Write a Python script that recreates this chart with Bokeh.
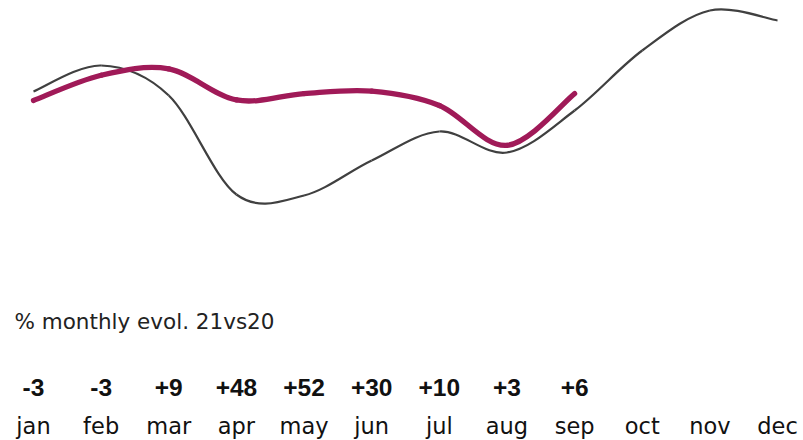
from bokeh.plotting import figure
from bokeh.models import Range1d, Label, ColumnDataSource
from bokeh.core.properties import value
from bokeh.embed import file_html
from bokeh.resources import INLINE

# Month axis
months = ["jan", "feb", "mar", "apr", "may", "jun",
          "jul", "aug", "sep", "oct", "nov", "dec"]

# 2020 monthly volume (index units)
vol_2020 = [300, 326, 296, 197, 196, 231, 260, 239, 281, 341, 381, 371]

# % evolution 2021 vs 2020 (months available so far)
pct_21vs20 = [-3, -3, 9, 48, 52, 30, 10, 3, 6]

# 2021 volume derived from 2020 and the monthly evolution
vol_2021 = [v * (1 + p / 100.0) for v, p in zip(vol_2020, pct_21vs20)]

FONT = "DejaVu Sans"
NUM_FONT = "Liberation Sans"
GREY = "#404040"
BERRY = "#A01A58"


def catmull_rom(xs, ys):
    """Bezier control points for a smooth curve passing through every point."""
    n = len(xs)
    px = [xs[0]] + list(xs) + [xs[-1]]
    py = [ys[0]] + list(ys) + [ys[-1]]
    seg = dict(x0=[], y0=[], x1=[], y1=[], cx0=[], cy0=[], cx1=[], cy1=[])
    for i in range(1, n):
        seg["x0"].append(px[i]); seg["y0"].append(py[i])
        seg["x1"].append(px[i + 1]); seg["y1"].append(py[i + 1])
        seg["cx0"].append(px[i] + (px[i + 1] - px[i - 1]) / 6.0)
        seg["cy0"].append(py[i] + (py[i + 1] - py[i - 1]) / 6.0)
        seg["cx1"].append(px[i + 1] - (px[i + 2] - px[i]) / 6.0)
        seg["cy1"].append(py[i + 1] - (py[i + 2] - py[i]) / 6.0)
    return ColumnDataSource(seg)


p = figure(width=803, height=440, output_backend="svg", toolbar_location=None,
           x_range=Range1d(-0.488, 11.384), y_range=Range1d(-49, 391),
           x_axis_type=None, y_axis_type=None, min_border=0)
p.outline_line_color = None
p.xgrid.visible = False
p.ygrid.visible = False
p.background_fill_color = "white"
p.border_fill_color = "white"

idx = list(range(len(months)))

p.bezier(x0="x0", y0="y0", x1="x1", y1="y1", cx0="cx0", cy0="cy0",
         cx1="cx1", cy1="cy1", source=catmull_rom(idx, vol_2020),
         line_color=GREY, line_width=2.2)

p.bezier(x0="x0", y0="y0", x1="x1", y1="y1", cx0="cx0", cy0="cy0",
         cx1="cx1", cy1="cy1", source=catmull_rom(idx[:len(vol_2021)], vol_2021),
         line_color=BERRY, line_width=5.3, line_cap="round")

# month names
p.text(x=idx, y=[-34] * len(months), text=months,
       text_font=value(FONT), text_font_size="22.5px", text_color="#111111",
       text_align="center", text_baseline="alphabetic")

# evolution values
pct_text = [f"{v:+d}" for v in pct_21vs20]
p.text(x=idx[:len(pct_text)], y=[4] * len(pct_text), text=pct_text,
       text_font=value(NUM_FONT), text_font_size="24.5px", text_font_style="bold",
       text_color="#111111", text_align="center", text_baseline="alphabetic")

p.add_layout(Label(x=14, y=440 - 321, x_units="screen", y_units="screen",
                   text="% monthly evol. 21vs20", text_font=FONT,
                   text_font_size="21.5px", text_color="#222222",
                   text_baseline="alphabetic", text_align="left"))

open("out.html", "w").write(file_html(p, INLINE))
